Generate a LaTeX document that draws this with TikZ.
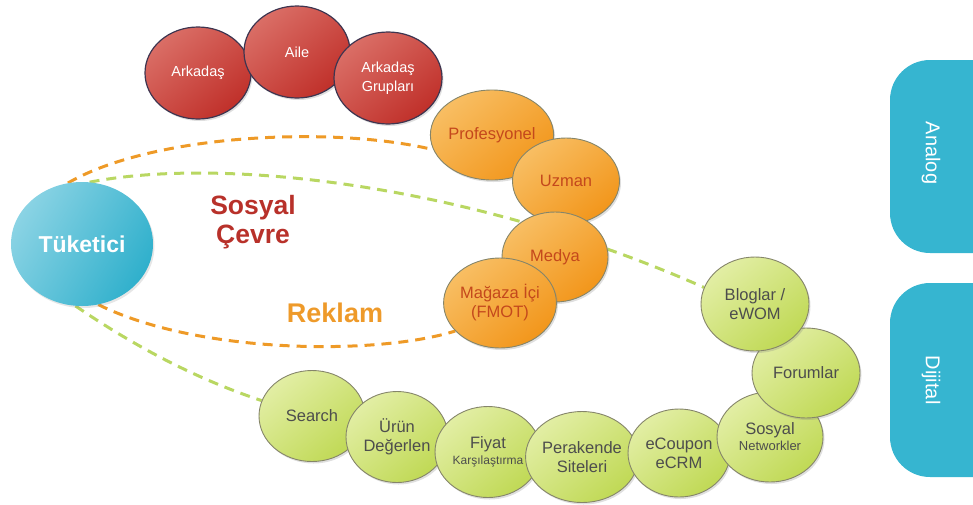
\documentclass[tikz,border=0pt]{standalone}
\usepackage{fontspec}
\setmainfont{Liberation Sans}
\usetikzlibrary{shapes.geometric,shadows,backgrounds}
\definecolor{redbase}{HTML}{C0302A}
\definecolor{redlight}{HTML}{DA6E66}
\definecolor{redline}{HTML}{3E3550}
\definecolor{orbase}{HTML}{F2961B}
\definecolor{orlight}{HTML}{F8BE63}
\definecolor{ortext}{HTML}{C4481C}
\definecolor{grbase}{HTML}{C0D955}
\definecolor{grlight}{HTML}{E2EEA4}
\definecolor{grtext}{HTML}{4D4D4D}
\definecolor{ballline}{HTML}{85856A}
\definecolor{cybase}{HTML}{30B0CC}
\definecolor{cylight}{HTML}{8AD3E4}
\definecolor{pillc}{HTML}{36B5D0}
\definecolor{dasho}{HTML}{EE9A27}
\definecolor{dashg}{HTML}{B9D762}
\definecolor{sosyalc}{HTML}{B8312A}
\definecolor{reklamc}{HTML}{EE9A2A}
\begin{document}
\begin{tikzpicture}[x=1pt,y=-1pt,
  ball/.style={ellipse, inner sep=0pt, align=center,
    font=\fontsize{16.5}{19}\selectfont,
    drop shadow={opacity=0.25,shadow xshift=1.5pt,shadow yshift=-2pt}},
  redball/.style={ball, draw=redline, line width=1.2pt,
    top color=redlight, bottom color=redbase, shading angle=40, text=white,
    font=\fontsize{14.5}{19}\selectfont,
    minimum width=106pt, minimum height=92pt},
  orball/.style={ball, draw=ballline, line width=0.9pt,
    top color=orlight, bottom color=orbase, shading angle=40, text=ortext,
    minimum width=107pt, minimum height=90pt},
  grball/.style={ball, draw=ballline, line width=0.9pt,
    top color=grlight, bottom color=grbase, shading angle=40, text=grtext,
    minimum width=104pt, minimum height=91pt},
  odash/.style={draw=dasho, line width=3pt, dash pattern=on 10pt off 7pt},
  gdash/.style={draw=dashg, line width=3pt, dash pattern=on 10pt off 7pt},
  pill/.style={fill=pillc, rounded corners=40pt},
  pilltext/.style={text=white, rotate=-90, font=\fontsize{20}{24}\selectfont}
]
\useasboundingbox (0,0) rectangle (973,504);
\clip (0,0) rectangle (973,504);

% consumer
\node[ellipse, inner sep=0pt, minimum width=142pt, minimum height=124pt,
  top color=cylight, bottom color=cybase, shading angle=60, text=white,
  font=\bfseries\fontsize{23}{26}\selectfont,
  drop shadow={opacity=0.2,shadow xshift=1.5pt,shadow yshift=-2pt}] (tuk) at (82,244) {Tüketici};

% red circles
\node[redball] (ark) at (198,73) {Arkadaş};
\node[redball] (aile) at (297,52) {Aile};
\node[redball, minimum width=108pt] (grup) at (388,78) {Arkadaş\\Grupları};

% orange circles
\node[orball] (prof) at (492,135) {Profesyonel};
\node[orball, minimum height=86pt] (uzman) at (566,181) {Uzman};
\node[orball, minimum width=106pt] (medya) at (555,257) {Medya};
\node[orball, minimum width=106pt] (mag) at (500,303) {Mağaza İçi\\(FMOT)};

% green circles
\node[grball, minimum width=106pt] (search) at (312,416) {Search};
\node[grball, minimum width=102pt] (urun) at (397,437) {Ürün\\Değerlen};
\node[grball, minimum width=106pt] (fiyat) at (488,452) {Fiyat\\[-3pt]{\fontsize{12}{14}\selectfont Karşılaştırma}};
\node[grball, minimum width=102pt] (pera) at (582,457) {Perakende\\Siteleri};
\node[grball, minimum width=102pt, minimum height=88pt] (ecou) at (679,453) {eCoupon\\eCRM};
\node[grball, minimum width=106pt, minimum height=90pt] (sosyal) at (770,437) {Sosyal\\[-3pt]{\fontsize{13}{15}\selectfont Networkler}};
\node[grball, minimum width=108pt, minimum height=90pt] (forum) at (806,373) {Forumlar};
\node[grball, minimum width=108pt, minimum height=94pt] (blog) at (755,304) {Bloglar /\\eWOM};

% labels
\node[text=sosyalc, align=center, font=\bfseries\fontsize{26.5}{29}\selectfont] (sc) at (253,222) {Sosyal\\Çevre};
\node[text=reklamc, font=\bfseries\fontsize{27}{30}\selectfont] (rek) at (335,313) {Reklam};

% pills
\fill[pill] (890,60) rectangle (1020,253);
\fill[pill] (890,283) rectangle (1020,477);
\node[pilltext] (analog) at (931,153) {Analog};
\node[pilltext] (dijital) at (931,380) {Dijital};

% dashed connectors
\begin{scope}[on background layer]
\draw[odash] (tuk.103) .. controls (150,135) and (330,125) .. (prof.194);
\draw[gdash] (tuk.83) .. controls (230,155) and (480,188) .. (blog.162);
\draw[odash] (tuk.285) .. controls (200,355) and (380,355) .. (mag.212);
\draw[gdash] (tuk.264) .. controls (140,350) and (200,380) .. (search.163);
\end{scope}
\end{tikzpicture}
\end{document}
